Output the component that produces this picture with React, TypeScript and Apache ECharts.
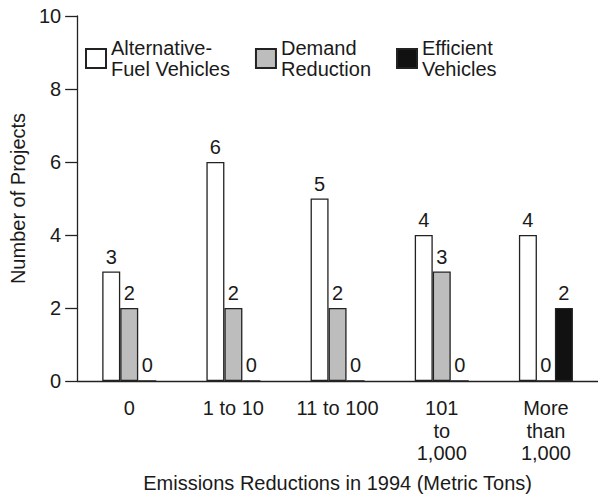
import React, { useEffect, useRef } from "react";
import * as echarts from "echarts";

const categories = ["0", "1 to 10", "11 to 100", "101\nto\n1,000", "More\nthan\n1,000"];
const altFuel = [3, 6, 5, 4, 4];
const demandReduction = [2, 2, 2, 3, 0];
const efficientVehicles = [0, 0, 0, 0, 2];
const seriesNames = ["Alternative-\nFuel Vehicles", "Demand\nReduction", "Efficient\nVehicles"];
const yTicks = { min: 0, max: 10, interval: 2 };

const FONT = "'Liberation Sans', Arial, sans-serif";
const TEXT = "#1a1a1a";

export default function App() {
  const ref = useRef<HTMLDivElement>(null);
  useEffect(() => {
    document.body.style.margin = "0";
    if (!ref.current) return;
    const chart = echarts.init(ref.current, undefined, { renderer: "svg" });
    const label = {
      show: true,
      position: "top",
      distance: 5,
      fontSize: 20,
      fontFamily: FONT,
      color: TEXT,
    };
    const mk = (name: string, data: number[], fill: string) => ({
      name,
      type: "bar",
      data,
      barWidth: 18,
      barGap: "0%",
      itemStyle: { color: fill, borderColor: "#222", borderWidth: 1.3 },
      label,
    });
    chart.setOption({
      animation: false,
      textStyle: { fontFamily: FONT },
      grid: { left: 69, top: 16, width: 535, height: 365, containLabel: false },
      legend: {
        left: 80,
        top: 30,
        itemWidth: 20,
        itemHeight: 19,
        itemGap: 25,
        selectedMode: false,
        textStyle: {
          fontSize: 20,
          lineHeight: 21.5,
          color: TEXT,
          fontFamily: FONT,
          padding: [0, 0, 4, 0],
        },
        data: seriesNames.map((n) => ({ name: n, icon: "rect" })),
      },
      xAxis: {
        type: "category",
        data: categories,
        name: "Emissions Reductions in 1994 (Metric Tons)",
        nameLocation: "middle",
        nameGap: 92,
        nameTextStyle: { fontSize: 20, color: TEXT, fontFamily: FONT, lineHeight: 20 },
        axisLine: { lineStyle: { color: "#222", width: 1.3 } },
        axisTick: { alignWithLabel: true, length: 8, lineStyle: { color: "#222", width: 1.3 } },
        axisLabel: {
          interval: 0,
          margin: 16,
          fontSize: 20,
          lineHeight: 22.5,
          color: TEXT,
          fontFamily: FONT,
        },
        splitLine: { show: false },
      },
      yAxis: {
        type: "value",
        min: yTicks.min,
        max: yTicks.max,
        interval: yTicks.interval,
        name: "Number of Projects",
        nameLocation: "middle",
        nameGap: 40,
        nameTextStyle: { fontSize: 20, color: TEXT, fontFamily: FONT },
        axisLine: { show: true, lineStyle: { color: "#222", width: 1.3 } },
        axisTick: { show: true, length: 12, lineStyle: { color: "#222", width: 1.3 } },
        axisLabel: { margin: 16, fontSize: 20, color: TEXT, fontFamily: FONT },
        splitLine: { show: false },
      },
      series: [
        mk(seriesNames[0], altFuel, "#ffffff"),
        mk(seriesNames[1], demandReduction, "#bdbdbd"),
        mk(seriesNames[2], efficientVehicles, "#111111"),
      ],
    });
    return () => chart.dispose();
  }, []);
  return (
    <div
      ref={ref}
      style={{ position: "absolute", left: 0, top: 0, width: 598, height: 498, background: "#fff" }}
    />
  );
}
